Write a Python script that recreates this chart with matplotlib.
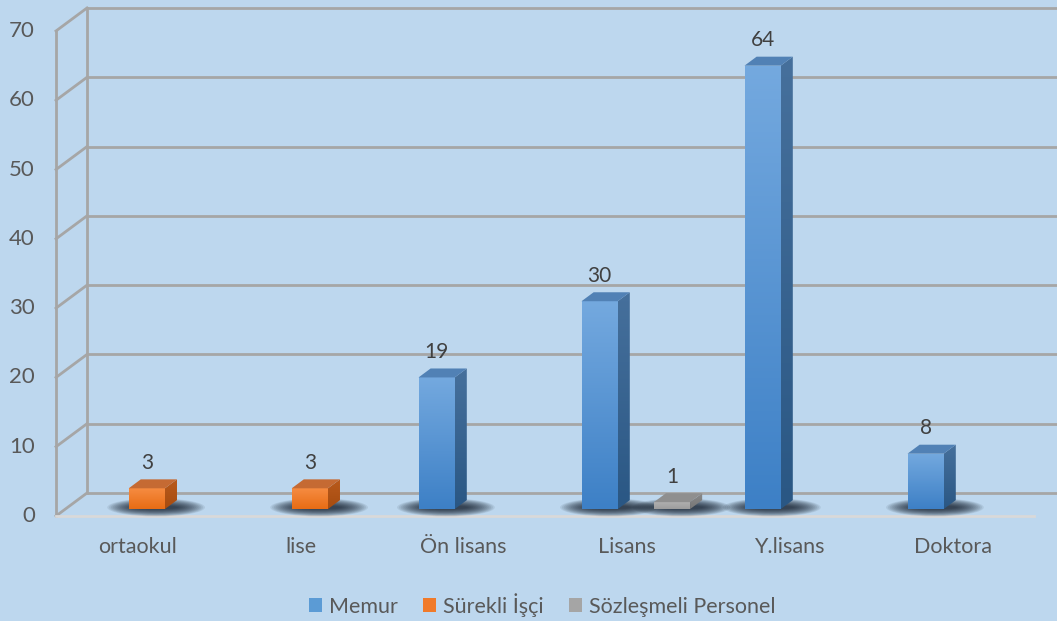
import numpy as np
import matplotlib
matplotlib.use("Agg")
import matplotlib.pyplot as plt
from matplotlib.patches import Polygon, Ellipse, Patch
from matplotlib.colors import LinearSegmentedColormap

plt.rcParams['font.family'] = ['Lato', 'DejaVu Sans']

categories = ['ortaokul', 'lise', 'Ön lisans', 'Lisans', 'Y.lisans', 'Doktora']
series_names = ['Memur', 'Sürekli İşçi', 'Sözleşmeli Personel']
memur = [0, 0, 19, 30, 64, 8]
surekli = [3, 3, 0, 0, 0, 0]
sozlesmeli = [0, 0, 0, 1, 0, 0]
yticks = [0, 10, 20, 30, 40, 50, 60, 70]

# face colours: front top, front bottom, side top, side bottom, top
styles = [
    ('#74a9df', '#3d80c6', '#46709c', '#2a5784', '#5181b5'),
    ('#f68c42', '#e86c14', '#b95a1c', '#a64c10', '#c56a33'),
    ('#b0b0b0', '#9c9c9c', '#8a8a8a', '#767676', '#8f8f8f'),
]
legend_cols = ['#5b9bd5', '#f07a2a', '#a5a5a5']
bg = '#bdd7ee'
txt = '#595959'

# oblique projection (depth 0 = front plane, 1 = back wall)
DX, DY = 0.1902, 3.319
D0, DEPTH = 0.30, 0.39
W = 0.222


def P(x, v, d):
    return (x + d * DX, v + d * DY)


def grad_poly(ax, verts, c_top, c_bot, z):
    poly = Polygon(verts, closed=True, facecolor='none', edgecolor='none')
    ax.add_patch(poly)
    xs = [p[0] for p in verts]
    ys = [p[1] for p in verts]
    cmap = LinearSegmentedColormap.from_list('g', [c_bot, c_top])
    grad = np.linspace(0, 1, 128).reshape(-1, 1)
    im = ax.imshow(grad, cmap=cmap, extent=(min(xs), max(xs), min(ys), max(ys)),
                   origin='lower', aspect='auto', zorder=z, interpolation='bilinear')
    im.set_clip_path(poly)


fig = plt.figure(figsize=(10.57, 6.21), dpi=100, facecolor=bg)
ax = fig.add_axes([0, 0, 1, 1])
ax.set_facecolor(bg)
ax.axis('off')

x0, x1 = -0.5, len(categories) - 0.5
gc = '#a6a6a6'
# back wall gridlines and left side wall
for v in yticks:
    a = P(x0, v, 1)
    b = P(x1, v, 1)
    ax.plot([a[0], b[0]], [a[1], b[1]], color=gc, lw=2, zorder=1, solid_capstyle='butt')
    c = P(x0, v, 0)
    ax.plot([c[0], a[0]], [c[1], a[1]], color=gc, lw=2, zorder=1)
    ax.text(x0 - 0.13, v, str(v), ha='right', va='center', fontsize=16, color=txt)
ax.plot([x0, x0], [0, yticks[-1]], color=gc, lw=2, zorder=1)
a = P(x0, 0, 1)
b = P(x0, yticks[-1], 1)
ax.plot([a[0], b[0]], [a[1], b[1]], color=gc, lw=2, zorder=1)
# front floor edge
ax.plot([x0, x1], [0, 0], color='#d9d9d9', lw=2, zorder=1)

for i, cat in enumerate(categories):
    ax.text(i, -4.5, cat, ha='center', va='center', fontsize=15.5, color=txt)

z = 3
for s, vals in enumerate([memur, surekli, sozlesmeli]):
    ftop, fbot, stop, sbot, tcol = styles[s]
    for i, v in enumerate(vals):
        if v == 0:
            continue
        xl = i + (s - 1) * W - W / 2
        xr = xl + W
        # soft shadow on the floor
        cx, cy = P(i + (s - 1) * W, 0, D0 + DEPTH / 2)
        for k in range(16):
            f = 1 - k / 16
            ax.add_patch(Ellipse((cx + 0.02, cy - 0.4), W * (1.1 + 1.6 * f), 2.2 * f + 0.4,
                                 facecolor='#141e2a', edgecolor='none', alpha=0.085, zorder=2))
        front = [P(xl, 0, D0), P(xr, 0, D0), P(xr, v, D0), P(xl, v, D0)]
        side = [P(xr, 0, D0), P(xr, 0, D0 + DEPTH), P(xr, v, D0 + DEPTH), P(xr, v, D0)]
        top = [P(xl, v, D0), P(xr, v, D0), P(xr, v, D0 + DEPTH), P(xl, v, D0 + DEPTH)]
        grad_poly(ax, front, ftop, fbot, z)
        grad_poly(ax, side, stop, sbot, z)
        ax.add_patch(Polygon(top, closed=True, facecolor=tcol, edgecolor='none', zorder=z))
        lx, ly = P(i + (s - 1) * W, v, D0)
        ax.text(lx, ly + 3.7, str(v), ha='center', va='center', fontsize=15, color='#404040', zorder=5)

ax.set_xlim(-0.8436, 5.6411)
ax.set_ylim(-15.154, 74.47)

handles = [Patch(facecolor=c, edgecolor='none') for c in legend_cols]
fig.legend(handles, series_names, loc='center', bbox_to_anchor=(0.513, 0.026), ncol=3,
           frameon=False, fontsize=15.5, handlelength=0.6, handleheight=0.6,
           handletextpad=0.3, columnspacing=1.2, labelcolor=txt)

fig.savefig('out.png', dpi=100, facecolor=bg)
